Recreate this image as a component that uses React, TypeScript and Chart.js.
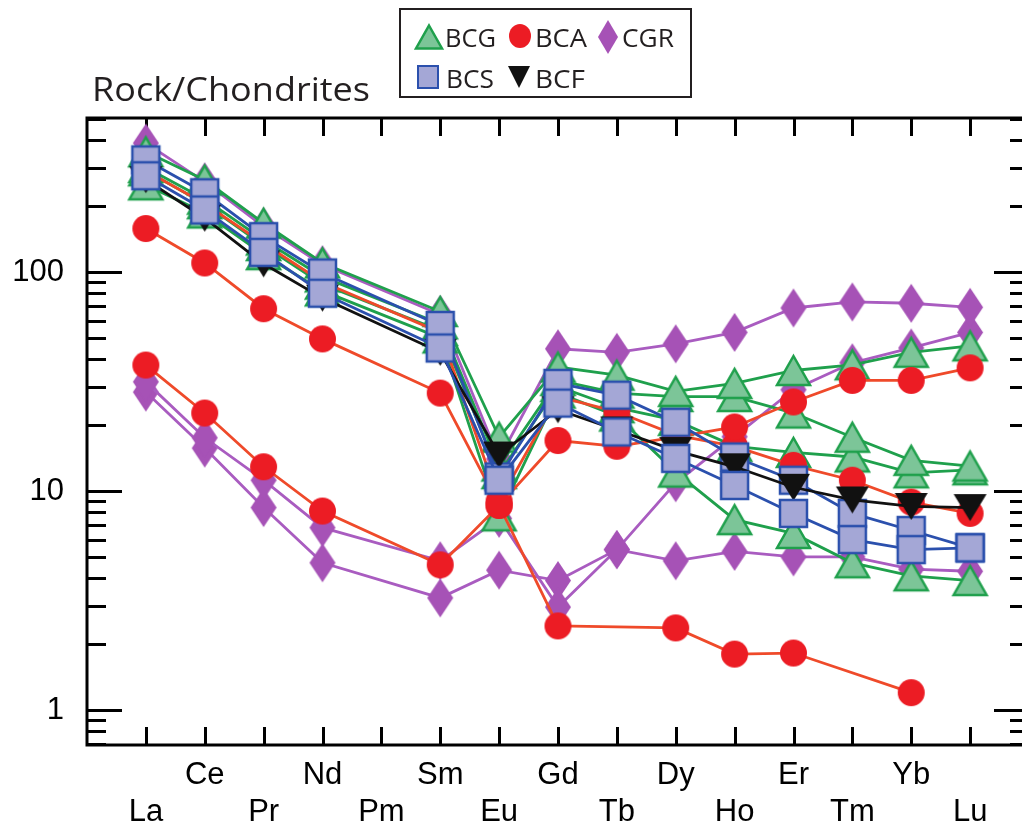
import React, { useEffect, useRef } from 'react';
import { Chart, registerables } from 'chart.js';

Chart.register(...registerables);

// ---------- data ----------
const ELEMENTS = ['La', 'Ce', 'Pr', 'Nd', 'Pm', 'Sm', 'Eu', 'Gd', 'Tb', 'Dy', 'Ho', 'Er', 'Tm', 'Yb', 'Lu'];
const Y_LABELS = [1, 10, 100];
const Y_MIN = 0.692;
const Y_MAX = 505;

// CGR (purple diamonds)
const CGR_A = [388, 258, 161, 108, null, 64, 14, 44.6, 43, 47, 53, 68.5, 73, 72, 69];
const CGR_B = [31.5, 17.5, 11.2, 6.8, null, 4.8, 7.5, 2.95, 5.4, 10.9, 17.7, 29, 38.5, 45, 53];
const CGR_C = [28.3, 15.7, 8.4, 4.7, null, 3.25, 4.35, 3.9, 5.4, 4.8, 5.3, 5.0, 5.0, 4.4, 4.3];

// BCG (green triangles)
const BCG_1 = [354, 263, 167, 110, null, 66, 17.6, 36.8, 33.8, 28.5, 31, 35.5, 37.7, 43, 46];
const BCG_2 = [300, 215, 140, 95, null, 58, 13, 32, 28, 27, 27, 22.7, 17.6, 13.8, 13];
const BCG_3 = [290, 205, 132, 88, null, 54, 12, 30, 24, 21, 16, 15, 14.3, 12.1, 12.5];
const BCG_4 = [250, 186, 120, 82, null, 50, 7.7, 28, 22, 12.2, 7.4, 6.4, 4.7, 4.1, 3.9];

// BCA (red circles)
const BCA_1 = [158, 110, 68, 49.5, null, 28, 8.6, 17, 16, 17.6, 19.6, 25.5, 32, 32, 36.5];
const BCA_2 = [37.6, 22.7, 12.9, 8.1, null, 4.6, 8.6, 2.42, null, 2.37, 1.8, 1.82, null, 1.2, null];
const BCA_3 = [290, 205, 135, 90, null, 53, 9, 27, 23, 18, 16, 13.1, 11.2, 8.9, 7.9];

// BCS (blue squares)
const BCS_1 = [325, 230, 145, 99, null, 57, 11.6, 31, 27.4, 20.6, 14.3, 11.2, 7.9, 6.6, 5.5];
const BCS_2 = [275, 192, 123, 80, null, 45, 11.2, 25.2, 18.6, 14.1, 10.6, 7.9, 6.0, 5.4, 5.5];

// BCF (black inverted triangles)
const BCF_1 = [264, 176, 109, 76, null, 43, 14.6, 23.5, 19, 15.3, 12.9, 10.4, 9.1, 8.5, 8.4];

// ---------- styles ----------
const GREEN_LINE = '#1fa04c';
const GREEN_FILL = '#7cc598';
const RED = '#ec1c24';
const RED_LINE = '#ef4a2a';
const PURPLE = '#a652b6';
const PURPLE_LINE = '#a95cc0';
const BLUE_LINE = '#2b50ad';
const BLUE_FILL = '#a4a7d6';
const BLACK = '#111111';
const LINE_W = 2.8;

const CANVAS_W = 1060;
const CANVAS_H = 827;
const AREA = { left: 87, right: 1029, top: 118, bottom: 745 };

type Kind = 'tri' | 'itri' | 'circle' | 'square' | 'diamond';

function makeMarker(kind: Kind, w: number, h: number, fill: string, stroke: string | null, lw: number) {
  const c = document.createElement('canvas');
  const pad = Math.ceil(lw) + 1;
  c.width = Math.round(w + 2 * pad);
  c.height = Math.round(h + 2 * pad);
  const ctx = c.getContext('2d')!;
  drawShape(ctx, kind, c.width / 2, c.height / 2, w, h, fill, stroke, lw);
  return c;
}

function drawShape(ctx: CanvasRenderingContext2D, kind: Kind, x: number, y: number, w: number, h: number, fill: string, stroke: string | null, lw: number) {
  ctx.save();
  ctx.translate(x, y);
  ctx.beginPath();
  if (kind === 'tri') {
    ctx.moveTo(0, -h / 2); ctx.lineTo(w / 2, h / 2); ctx.lineTo(-w / 2, h / 2); ctx.closePath();
  } else if (kind === 'itri') {
    ctx.moveTo(-w / 2, -h / 2); ctx.lineTo(w / 2, -h / 2); ctx.lineTo(0, h / 2); ctx.closePath();
  } else if (kind === 'circle') {
    ctx.ellipse(0, 0, w / 2, h / 2, 0, 0, Math.PI * 2);
  } else if (kind === 'square') {
    ctx.rect(-w / 2, -h / 2, w, h);
  } else {
    ctx.moveTo(0, -h / 2); ctx.lineTo(w / 2, 0); ctx.lineTo(0, h / 2); ctx.lineTo(-w / 2, 0); ctx.closePath();
  }
  ctx.fillStyle = fill;
  ctx.fill();
  if (stroke) {
    ctx.lineWidth = lw;
    ctx.strokeStyle = stroke;
    ctx.lineJoin = 'miter';
    ctx.stroke();
  }
  ctx.restore();
}

function fitText(ctx: CanvasRenderingContext2D, text: string, x: number, baseline: number, width: number, font: string, color: string) {
  ctx.save();
  ctx.font = font;
  ctx.fillStyle = color;
  ctx.textAlign = 'left';
  ctx.textBaseline = 'alphabetic';
  const m = ctx.measureText(text).width;
  ctx.translate(x, baseline);
  ctx.scale(width / m, 1);
  ctx.fillText(text, 0, 0);
  ctx.restore();
}

const framePlugin = {
  id: 'frameTicks',
  beforeDatasetsDraw(chart: any) {
    const ctx: CanvasRenderingContext2D = chart.ctx;
    const { left, right, top, bottom } = chart.chartArea;
    const xs = chart.scales.x;
    const ys = chart.scales.y;
    ctx.save();
    ctx.strokeStyle = '#000';
    ctx.lineCap = 'butt';
    ctx.lineWidth = 3;
    // x ticks (top and bottom, inward)
    ELEMENTS.forEach((_, i) => {
      const px = Math.round(xs.getPixelForValue(i)) + 0.5;
      ctx.beginPath();
      ctx.moveTo(px, top); ctx.lineTo(px, top + 18);
      ctx.moveTo(px, bottom); ctx.lineTo(px, bottom - 18);
      ctx.stroke();
    });
    // y ticks (left and right, inward; majors longer)
    [-1, 0, 1, 2].forEach((d) => {
      for (let k = 1; k <= 9; k++) {
        const v = k * Math.pow(10, d);
        if (v < Y_MIN - 1e-9 || v > Y_MAX + 1e-9) continue;
        const py = Math.round(ys.getPixelForValue(v)) + 0.5;
        const len = k === 1 ? 35 : 19;
        ctx.beginPath();
        ctx.moveTo(left, py); ctx.lineTo(left + len, py);
        ctx.moveTo(right, py); ctx.lineTo(right - len, py);
        ctx.stroke();
      }
    });
    ctx.strokeRect(left, top, right - left, bottom - top);
    ctx.restore();
  },
  afterDraw(chart: any) {
    const ctx: CanvasRenderingContext2D = chart.ctx;
    const TXT = '#231f20';
    fitText(ctx, 'Rock/Chondrites', 92, 101, 278, '33px "Open Sans"', TXT);
    ctx.save();
    ctx.strokeStyle = TXT;
    ctx.lineWidth = 2;
    ctx.strokeRect(400, 9, 291, 88);
    ctx.restore();
    drawShape(ctx, 'tri', 429, 37, 26, 23, GREEN_FILL, GREEN_LINE, 2.5);
    fitText(ctx, 'BCG', 445, 47, 51, '26px "Open Sans"', TXT);
    drawShape(ctx, 'circle', 520, 36, 22, 24, RED, null, 0);
    fitText(ctx, 'BCA', 535, 47, 52, '26px "Open Sans"', TXT);
    drawShape(ctx, 'diamond', 608, 37, 20, 34, PURPLE, null, 0);
    fitText(ctx, 'CGR', 622, 47, 52, '26px "Open Sans"', TXT);
    drawShape(ctx, 'square', 428, 77, 20, 22, BLUE_FILL, BLUE_LINE, 2);
    fitText(ctx, 'BCS', 446, 88, 48, '26px "Open Sans"', TXT);
    drawShape(ctx, 'itri', 519, 77, 22, 22, BLACK, null, 0);
    fitText(ctx, 'BCF', 535, 88, 50, '26px "Open Sans"', TXT);
  },
};

export default function App() {
  const ref = useRef<HTMLCanvasElement | null>(null);

  useEffect(() => {
    const canvas = ref.current;
    if (!canvas) return;

    const M = {
      tri: makeMarker('tri', 33, 29, GREEN_FILL, GREEN_LINE, 2.5),
      circle: makeMarker('circle', 27, 27, RED, null, 0),
      square: makeMarker('square', 27, 27, BLUE_FILL, BLUE_LINE, 2.5),
      itri: makeMarker('itri', 33, 27, BLACK, null, 0),
      diamond: makeMarker('diamond', 26, 39, PURPLE, null, 0),
    };

    const mk = (label: string, values: (number | null)[], color: string, marker: HTMLCanvasElement, order: number) => ({
      label,
      data: values.map((y, i) => ({ x: i, y })),
      borderColor: color,
      backgroundColor: color,
      borderWidth: LINE_W,
      pointStyle: marker,
      pointRadius: 12,
      pointHoverRadius: 12,
      spanGaps: true,
      tension: 0,
      fill: false,
      order,
    });

    // lower order = drawn on top
    const datasets = [
      mk('CGR', CGR_A, PURPLE_LINE, M.diamond, 50),
      mk('CGR', CGR_B, PURPLE_LINE, M.diamond, 51),
      mk('CGR', CGR_C, PURPLE_LINE, M.diamond, 52),
      mk('BCG', BCG_1, GREEN_LINE, M.tri, 40),
      mk('BCG', BCG_2, GREEN_LINE, M.tri, 41),
      mk('BCG', BCG_3, GREEN_LINE, M.tri, 42),
      mk('BCG', BCG_4, GREEN_LINE, M.tri, 43),
      mk('BCA', BCA_1, RED_LINE, M.circle, 30),
      mk('BCA', BCA_2, RED_LINE, M.circle, 31),
      mk('BCA', BCA_3, RED_LINE, M.circle, 32),
      mk('BCS', BCS_1, BLUE_LINE, M.square, 20),
      mk('BCF', BCF_1, BLACK, M.itri, 10),
      mk('BCS', BCS_2, BLUE_LINE, M.square, 5),
    ];

    const chart = new Chart(canvas, {
      type: 'line',
      data: { datasets } as any,
      options: {
        animation: false,
        responsive: false,
        maintainAspectRatio: false,
        events: [],
        layout: {
          padding: { left: 0, top: AREA.top, right: CANVAS_W - AREA.right, bottom: 0 },
        },
        plugins: {
          legend: { display: false },
          title: { display: false },
          tooltip: { enabled: false },
        },
        scales: {
          x: {
            type: 'linear',
            min: -1,
            max: 15,
            bounds: 'data',
            grid: { display: false, drawTicks: false },
            border: { display: false },
            afterBuildTicks: (scale: any) => {
              scale.ticks = ELEMENTS.map((_, i) => ({ value: i }));
            },
            afterFit: (scale: any) => {
              scale.height = CANVAS_H - AREA.bottom;
            },
            ticks: {
              autoSkip: false,
              maxRotation: 0,
              minRotation: 0,
              padding: 12,
              color: '#000',
              font: { family: '"Liberation Sans", Arial, sans-serif', size: 31, lineHeight: '37px' } as any,
              callback: (v: any) => {
                const i = Math.round(Number(v));
                const name = ELEMENTS[i] ?? '';
                return i % 2 === 1 ? [name] : ['', name];
              },
            },
          },
          y: {
            type: 'logarithmic',
            min: Y_MIN,
            max: Y_MAX,
            bounds: 'data',
            grid: { display: false, drawTicks: false },
            border: { display: false },
            afterBuildTicks: (scale: any) => {
              scale.ticks = Y_LABELS.map((v) => ({ value: v }));
            },
            afterFit: (scale: any) => {
              scale.width = AREA.left;
            },
            ticks: {
              padding: 23,
              color: '#000',
              font: { family: '"Liberation Sans", Arial, sans-serif', size: 31 },
              callback: (v: any) => String(v),
            },
          },
        },
      },
      plugins: [framePlugin],
    });

    return () => chart.destroy();
  }, []);

  return (
    <div style={{ position: 'fixed', left: 0, top: 0, width: 1022, height: 827, overflow: 'hidden', background: '#fff' }}>
      <canvas ref={ref} width={CANVAS_W} height={CANVAS_H} style={{ display: 'block', width: CANVAS_W, height: CANVAS_H }} />
    </div>
  );
}
